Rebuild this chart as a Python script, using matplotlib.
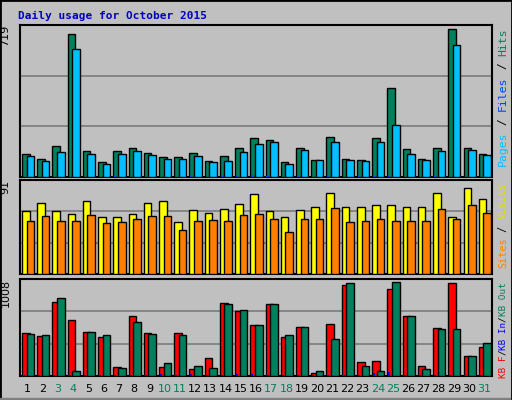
import matplotlib
matplotlib.use("Agg")
import matplotlib.pyplot as plt
import numpy as np

days = list(range(1, 32))
weekend = [3, 4, 10, 11, 17, 18, 24, 25, 31]
hits_y = [153,158,145,34,150,161,150,147,152,156,156,152,160,155,147,137,139,161,147,159,136,158,159,137,87,148,158,147,29,147,153]
pages_y = [155,160,151,48,153,163,153,150,154,158,158,155,161,160,151,143,141,163,149,159,141,159,160,141,124,153,159,150,45,149,154]
hits = [round((176 - y) / 147 * 719) for y in hits_y]
pages = [round((176 - y) / 147 * 719) for y in pages_y]
files = [2,1,2,1,2,1,4,2,2,1,2,4,2,3,6,8,3,1,3,1,4,2,3,5,4,2,1,3,1,2,2]
visits_y = [208,200,208,211,198,214,214,211,200,198,220,207,210,206,201,190,208,214,207,204,189,204,204,202,202,204,204,189,214,184,196]
sites_y = [219,213,219,219,212,221,220,216,213,213,228,219,218,219,212,211,216,229,217,216,205,220,219,216,219,219,219,206,216,202,210]
visits = [round((273 - y) / 90 * 91) for y in visits_y]
sites = [round((273 - y) / 90 * 91) for y in sites_y]
kbf_y = [334,337,304,322,333,338,366,318,334,366,334,368,358,305,313,326,306,338,328,372,325,288,362,361,292,318,365,329,286,356,347]
kbo_y = [335,336,301,370,333,336,367,323,335,363,336,365,367,306,312,326,306,336,328,370,340,286,365,370,285,318,368,330,330,356,343]
kbf = [round((375 - y) / 89 * 1008) for y in kbf_y]
kbout = [round((375 - y) / 89 * 1008) for y in kbo_y]
kbin = [10,8,15,8,10,8,8,8,8,20,8,20,10,12,18,18,15,8,10,8,15,15,15,30,40,12,8,10,8,8,8]

W, H = 512, 400
fig = plt.figure(figsize=(W/100, H/100), dpi=100)
fig.patch.set_facecolor("#c0c0c0")
fig.add_artist(plt.Rectangle((0, 0), 1, 1, transform=fig.transFigure, fill=False, ec="black", lw=2))
fig.add_artist(plt.Rectangle((0, 0), 1 - 2/W, 2/H, transform=fig.transFigure, color="#808080"))
fig.text(18/W, 1 - 16/H, "Daily usage for October 2015", family="DejaVu Sans Mono",
         fontsize=8, weight="bold", color="#0000c0", va="center")

def ax_px(x0, y0, x1, y1):
    ax = fig.add_axes([x0/W, 1 - y1/H, (x1-x0)/W, (y1-y0)/H])
    ax.set_facecolor("#c0c0c0")
    ax.set_xlim(0.5, 31.5)
    ax.set_xticks([])
    ax.set_yticks([])
    for s in ax.spines.values():
        s.set_linewidth(1.5)
    return ax

x = np.array(days)
bw = 0.5
def bars(ax, a, b, ca, cb, small=None, cs=None):
    ax.bar(x - 0.12, a, width=bw, color=ca, ec="black", lw=1, zorder=3)
    ax.bar(x + 0.18, b, width=bw, color=cb, ec="black", lw=1, zorder=4)
    if small is not None:
        ax.bar(x - 0.25, small, width=0.15, color=cs, lw=0, zorder=5)

def grid(ax, top, n):
    for k in range(1, n):
        ax.axhline(top * k / n, color="#808080", lw=1.3, zorder=1)

ax1 = ax_px(20, 25, 492, 177)
ax1.set_ylim(0, 719 * 1.03)
grid(ax1, 719 * 1.03, 3)
bars(ax1, hits, pages, "#00805c", "#00c0ff", files, "#0040ff")
ax1.text(-0.02, 1.0, "719", transform=ax1.transAxes, rotation=90, ha="right", va="top", fontsize=8)

ax2 = ax_px(20, 180, 492, 274)
ax2.set_ylim(0, 91 * 1.08)
grid(ax2, 91 * 1.08, 3)
bars(ax2, visits, sites, "#ffff00", "#ff8000")
ax2.text(-0.02, 1.0, "91", transform=ax2.transAxes, rotation=90, ha="right", va="top", fontsize=8)

ax3 = ax_px(20, 279, 492, 376)
ax3.set_ylim(0, 1008 * 1.04)
grid(ax3, 1008 * 1.04, 3)
bars(ax3, kbf, kbout, "#ff0000", "#00805c", kbin, "#0000ff")
ax3.text(-0.02, 1.0, "1008", transform=ax3.transAxes, rotation=90, ha="right", va="top", fontsize=8)

for d in days:
    ax3.text(d, -0.08, str(d), transform=ax3.get_xaxis_transform(), ha="center", va="top",
             fontsize=8, color="#00805c" if d in weekend else "black")

mono = "DejaVu Sans Mono"
def side(y_top_px, y_bot_px, parts):
    n = sum(len(p[0]) for p in parts)
    ch = (y_bot_px - y_top_px) / n
    fs = ch / 0.602 * 72 / 100
    pos = 0
    start = H - y_bot_px  # bottom-based
    for txt, col in parts:
        fig.text(503/W, (start + pos*ch)/H, txt, rotation=90, family=mono, fontsize=fs,
                 color=col, ha="center", va="bottom")
        pos += len(txt)

side(28, 166, [("Pages", "#00c0ff"), (" / ", "black"), ("Files", "#0040ff"), (" / ", "black"), ("Hits", "#00805c")])
side(183, 268, [("Sites", "#ff8000"), (" / ", "black"), ("Visits", "#e0e000")])
side(282, 378, [("KB F", "#ff0000"), ("/", "black"), ("KB In", "#0000ff"), ("/", "black"), ("KB Out", "#00805c")])

fig.savefig("out.png", dpi=100, facecolor=fig.get_facecolor())
